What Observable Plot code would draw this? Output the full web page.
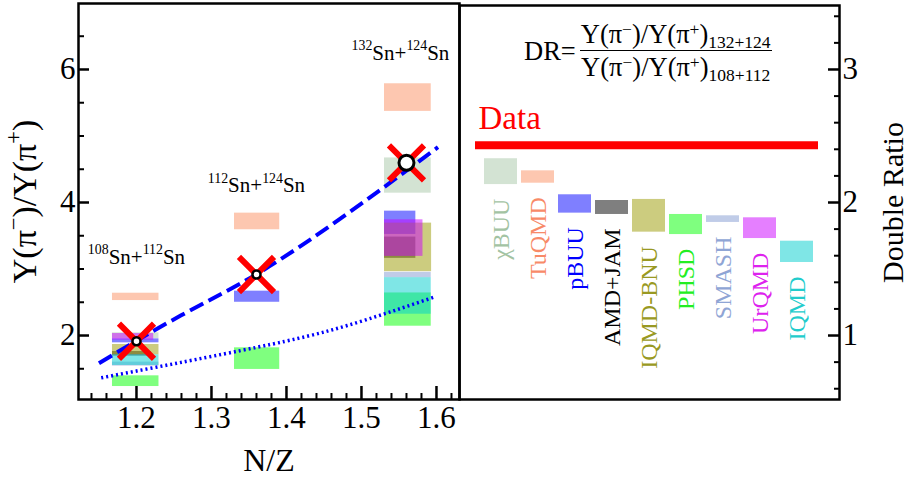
<!DOCTYPE html>
<html><head><meta charset="utf-8">
<script src="https://cdn.jsdelivr.net/npm/d3@7"></script>
<script src="https://cdn.jsdelivr.net/npm/@observablehq/plot@0.6"></script>
<style>
body{margin:0;background:#fff;}
#wrap{position:relative;width:908px;height:477px;overflow:hidden;font-family:"Liberation Serif","Times New Roman",serif;}
#wrap svg{position:absolute;top:0;overflow:visible;background:transparent;}
#formula{position:absolute;left:524px;top:19px;font-family:"Liberation Serif",serif;font-size:26.5px;display:flex;align-items:center;color:#000;}
#formula .frac{display:inline-flex;flex-direction:column;align-items:center;margin-left:4px;}
#formula .num{border-bottom:1.6px solid #000;padding:0 1px 1px 1px;line-height:1.15;}
#formula .den{line-height:1.2;padding-top:1px;}
#formula sup{font-size:0.66em;vertical-align:0.45em;line-height:0;}
#formula sub{font-size:0.66em;vertical-align:-0.3em;line-height:0;}
</style></head><body><div id="wrap">
<div id="formula"><span>DR=</span><span class="frac"><span class="num">Y(π<sup>−</sup>)/Y(π<sup>+</sup>)<sub>132+124</sub></span><span class="den">Y(π<sup>−</sup>)/Y(π<sup>+</sup>)<sub>108+112</sub></span></span></div>
</div>
<script>
// ---- models ----
const models = ["χBUU","TuQMD","pBUU","AMD+JAM","IQMD-BNU","PHSD","SMASH","UrQMD","IQMD"];
const fillColors = ["#a8c8a8","#fb8f62","#0000ff","#000000","#999900","#00ff00","#8199d1","#cc00ff","#00cdcd"];
const textColors = ["#a3c3a3","#f88a68","#0000ff","#000000","#999922","#22ee22","#8fa5d5","#dd22ee","#22cccc"];

// ---- reactions ----
const reactionNZ = [1.2, 1.36, 1.56];
const reactionLabels = ["^{108}Sn+^{112}Sn", "^{112}Sn+^{124}Sn", "^{132}Sn+^{124}Sn"];
const reactionLabelNZ = [1.2, 1.36, 1.552];
const reactionLabelY = [3.08, 4.155, 6.15];
const dataRatio = [1.914, 2.917, 4.597];

// model bands of Y(π−)/Y(π+) [low, high]; null = not computed
const band108 = [[1.955,2.04],[2.526,2.636],[1.89,1.95],[1.69,1.76],[1.71,1.865],[1.233,1.394],[1.54,1.60],[1.93,2.03],[1.55,1.71]];
const band112 = [null,[3.59,3.84],[2.50,2.667],null,null,[1.49,1.815],null,null,null];
const band132 = [[4.14,4.67],[5.37,5.785],[3.52,3.87],[3.16,3.48],[2.96,3.69],[2.14,2.64],[2.87,2.95],[3.19,3.74],[2.32,2.87]];
const boxLeftNZ = [1.168, 1.3307, 1.5307];
const boxRightNZ = [
  [1.23,1.23,1.23,1.22,1.23,1.23,1.23,1.223,1.23],
  [1.391,1.391,1.391,1.391,1.391,1.391,1.391,1.391,1.391],
  [1.593,1.593,1.5725,1.5725,1.5935,1.593,1.593,1.582,1.593]
];

// fits
const fitNZ = [1.150,1.259,1.361,1.481,1.602];
const fitY  = [1.584,2.30,2.928,3.83,4.832];
const fit2NZ = [1.153,1.361,1.481,1.5965];
const fit2Y  = [1.364,1.824,2.15,2.576];

// double ratios
const drLow  = [2.135,2.145,1.920,1.910,1.777,1.759,1.850,1.729,1.549];
const drHigh = [2.329,2.238,2.058,2.015,2.023,1.910,1.900,1.885,1.709];
const dataDR = 2.43;

// ticks
const xTicks = [1.2,1.3,1.4,1.5,1.6];
const xMinor = [1.14,1.16,1.18,1.22,1.24,1.26,1.28,1.32,1.34,1.36,1.38,1.42,1.44,1.46,1.48,1.52,1.54,1.56,1.58,1.62];
const yTicks = [2,4,6];
const yMinor = [1.5,2.5,3,3.5,4.5,5,5.5,6.5];
const drTicks = [1,2,3];
const drMinor = [0.6,0.8,1.2,1.4,1.6,1.8,2.2,2.4,2.6,2.8,3.2,3.4];

// ---- build tables ----
const bands = [band108, band112, band132];
const leftBoxes = [];
bands.forEach((bs, r) => bs.forEach((b, m) => {
  if (b) leftBoxes.push({model: models[m], color: fillColors[m], x1: boxLeftNZ[r], x2: boxRightNZ[r][m], lo: b[0], hi: b[1]});
}));
const points = reactionNZ.map((x, i) => ({x, y: dataRatio[i]}));
const reactions = reactionLabelNZ.map((x, i) => ({x, y: reactionLabelY[i], label: reactionLabels[i]}));
const fit = fitNZ.map((x, i) => ({x, y: fitY[i]}));
const fit2 = fit2NZ.map((x, i) => ({x, y: fit2Y[i]}));
const modelDR = models.map((m, i) => ({model: m, lo: drLow[i], hi: drHigh[i], color: fillColors[i], tcolor: textColors[i]}));

const font = "Liberation Serif";
const F = {fontFamily: font};
const left = Plot.plot({
  width: 460, height: 477, marginLeft: 78, marginRight: 1, marginTop: 3, marginBottom: 78,
  style: {fontFamily: font, background: "transparent", overflow: "visible", color: "black"},
  x: {domain: [1.1227, 1.6307]},
  y: {domain: [1.038, 6.992]},
  color: {type: "identity"},
  marks: [
    Plot.rect(leftBoxes, {x1: "x1", x2: "x2", y1: "lo", y2: "hi", fill: "color", fillOpacity: 0.5}),
    Plot.line(fit, {x: "x", y: "y", curve: "natural", stroke: "#0000ff", strokeWidth: 4, strokeDasharray: "15,6", strokeLinecap: "butt"}),
    Plot.line(fit2, {x: "x", y: "y", curve: "natural", stroke: "#0000ff", strokeWidth: 3.5, strokeDasharray: "2,3", strokeLinecap: "butt"}),
    Plot.dot(points, {x: "x", y: "y", symbol: "times", r: 16, stroke: "#ff0000", strokeWidth: 6}),
    Plot.dot(points.slice(0, 2), {x: "x", y: "y", r: 4, fill: "white", stroke: "black", strokeWidth: 2.5}),
    Plot.dot(points.slice(2), {x: "x", y: "y", r: 7.5, fill: "white", stroke: "black", strokeWidth: 3}),
    Plot.text(reactions, {x: "x", y: "y", text: "label", fontSize: 21, lineAnchor: "bottom", textAnchor: "middle", ...F}),
    Plot.axisX(xTicks, {tickSize: -13, tickPadding: 19, fontSize: 31, tickFormat: (d) => d.toFixed(1), strokeWidth: 2.5, label: null, ...F}),
    Plot.axisX(xMinor, {tickSize: -6, tickFormat: () => "", strokeWidth: 2, label: null}),
    Plot.axisY(yTicks, {tickSize: -11, tickPadding: 14, fontSize: 31, tickFormat: (d) => String(d), strokeWidth: 2.5, label: null, ...F}),
    Plot.axisY(yMinor, {tickSize: -6, tickFormat: () => "", strokeWidth: 2, label: null}),
    Plot.frame({stroke: "black", strokeWidth: 2.5}),
    Plot.text(["N/Z"], {frameAnchor: "bottom", dy: 71, lineAnchor: "bottom", textAnchor: "middle", fontSize: 32, ...F}),
    Plot.text(["Y(π^{−})/Y(π^{+})"], {frameAnchor: "left", dx: -53, rotate: -90, textAnchor: "middle", lineAnchor: "middle", fontSize: 34, ...F})
  ]
});

const right = Plot.plot({
  width: 449, height: 477, marginLeft: 0, marginRight: 69, marginTop: 5, marginBottom: 78,
  style: {fontFamily: font, background: "transparent", overflow: "visible", color: "black"},
  x: {type: "band", domain: models, paddingInner: 0.1, paddingOuter: 0.64, align: 0.5, axis: null},
  y: {domain: [0.519, 3.481]},
  color: {type: "identity"},
  marks: [
    Plot.barY(modelDR, {x: "model", y1: "lo", y2: "hi", fill: "color", fillOpacity: 0.5}),
    Plot.ruleY([dataDR], {stroke: "#ff0000", strokeWidth: 8, insetLeft: 16, insetRight: 21}),
    Plot.text([{v: dataDR, t: "Data"}], {y: "v", text: "t", frameAnchor: "left", dx: 19, dy: -16, textAnchor: "start", lineAnchor: "bottom", fill: "#ff0000", fontSize: 33, ...F}),
    Plot.text(modelDR, {x: "model", y: "lo", text: "model", rotate: -90, textAnchor: "end", lineAnchor: "middle", dy: 14, fill: "tcolor", fontSize: 24, ...F}),
    Plot.axisY(drTicks, {anchor: "right", tickSize: -12, tickPadding: 15, fontSize: 31, tickFormat: (d) => String(d), strokeWidth: 2.5, label: null, ...F}),
    Plot.axisY(drMinor, {anchor: "right", tickSize: -6, tickFormat: () => "", strokeWidth: 2, label: null}),
    Plot.frame({stroke: "black", strokeWidth: 2.5}),
    Plot.text(["Double Ratio"], {frameAnchor: "right", dx: 54, rotate: -90, textAnchor: "middle", lineAnchor: "middle", fontSize: 30, ...F})
  ]
});

const wrap = document.getElementById("wrap");
left.style.left = "0px";
right.style.left = "459px";
wrap.insertBefore(right, wrap.firstChild);
wrap.insertBefore(left, wrap.firstChild);

// rich text: ^{..} superscript, _{..} subscript
function richify(root) {
  root.querySelectorAll("text").forEach((t) => {
    const s = t.textContent;
    if (!/[\^_]\{/.test(s)) return;
    const fs = parseFloat(getComputedStyle(t).fontSize);
    const parts = [...s.matchAll(/([\^_])\{([^}]*)\}|([^\^_]+)/g)];
    while (t.firstChild) t.removeChild(t.firstChild);
    let shift = 0;
    for (const m of parts) {
      const ts = document.createElementNS("http://www.w3.org/2000/svg", "tspan");
      let target = 0;
      if (m[1] === "^") { target = -0.45 * fs; ts.setAttribute("font-size", 0.66 * fs); ts.textContent = m[2]; }
      else if (m[1] === "_") { target = 0.3 * fs; ts.setAttribute("font-size", 0.66 * fs); ts.textContent = m[2]; }
      else ts.textContent = m[3];
      const d = target - shift;
      if (d) ts.setAttribute("dy", d);
      shift = target;
      t.appendChild(ts);
    }
  });
}
richify(left);
richify(right);
</script>
</body></html>
